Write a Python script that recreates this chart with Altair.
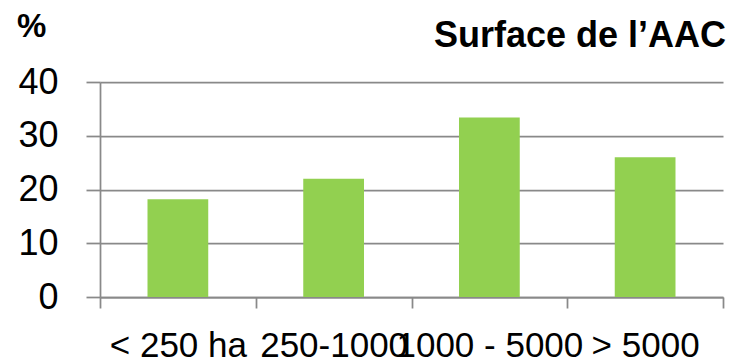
import altair as alt
import pandas as pd

# Share of areas by catchment size class
categories = ["<  250 ha", "250-1000", "1000 - 5000", "> 5000"]
shares = [18.2, 22.0, 33.4, 26.0]
y_ticks = [0, 10, 20, 30, 40]

chart_title = "Surface de l\u2019AAC"
unit_label = "%"

FONT = "Liberation Sans"
GRID = "#898989"
BAR = "#92D050"

df = pd.DataFrame({"classe": categories, "part": shares})

bars = alt.Chart(df).mark_bar(color=BAR, width=alt.RelativeBandSize(0.39)).encode(
    x=alt.X(
        "classe:N",
        sort=categories,
        scale=alt.Scale(paddingInner=0, paddingOuter=0),
        axis=alt.Axis(
            title=None,
            labelAngle=0,
            labelFont=FONT,
            labelFontSize=35,
            labelColor="#000000",
            labelBaseline="alphabetic",
            labelPadding=48,
            labelOverlap=False,
            labelBound=False,
            labelFlush=False,
            labelLimit=0,
            tickBand="extent",
            tickSize=11,
            tickColor=GRID,
            tickWidth=1.75,
            domainColor=GRID,
            domainWidth=1.75,
            grid=False,
        ),
    ),
    y=alt.Y(
        "part:Q",
        scale=alt.Scale(domain=[0, 40], nice=False),
        axis=alt.Axis(
            title=None,
            values=y_ticks,
            labelFont=FONT,
            labelFontSize=36,
            labelColor="#000000",
            labelPadding=28,
            tickSize=14,
            tickColor=GRID,
            tickWidth=1.75,
            domainColor=GRID,
            domainWidth=1.75,
            grid=True,
            gridColor=GRID,
            gridWidth=1.75,
        ),
    ),
)

title_df = pd.DataFrame({"t": [chart_title]})
title_text = alt.Chart(title_df).mark_text(
    font=FONT, fontSize=36, fontWeight="bold", color="#000000",
    align="right", baseline="alphabetic",
).encode(text="t:N", x=alt.value(626), y=alt.value(-35))

unit_df = pd.DataFrame({"t": [unit_label]})
unit_text = alt.Chart(unit_df).mark_text(
    font=FONT, fontSize=33, fontWeight="bold", color="#000000",
    align="left", baseline="alphabetic",
).encode(text="t:N", x=alt.value(-83), y=alt.value(-45))

chart = (
    alt.layer(bars, title_text, unit_text)
    .properties(
        width=623,
        height=215,
        autosize=alt.AutoSizeParams(type="none"),
        padding={"left": 100, "top": 82, "right": 6, "bottom": 62},
        background="#ffffff",
    )
    .configure_view(stroke=None)
)

chart.save("out.html", embed_options={"renderer": "svg", "actions": False})
